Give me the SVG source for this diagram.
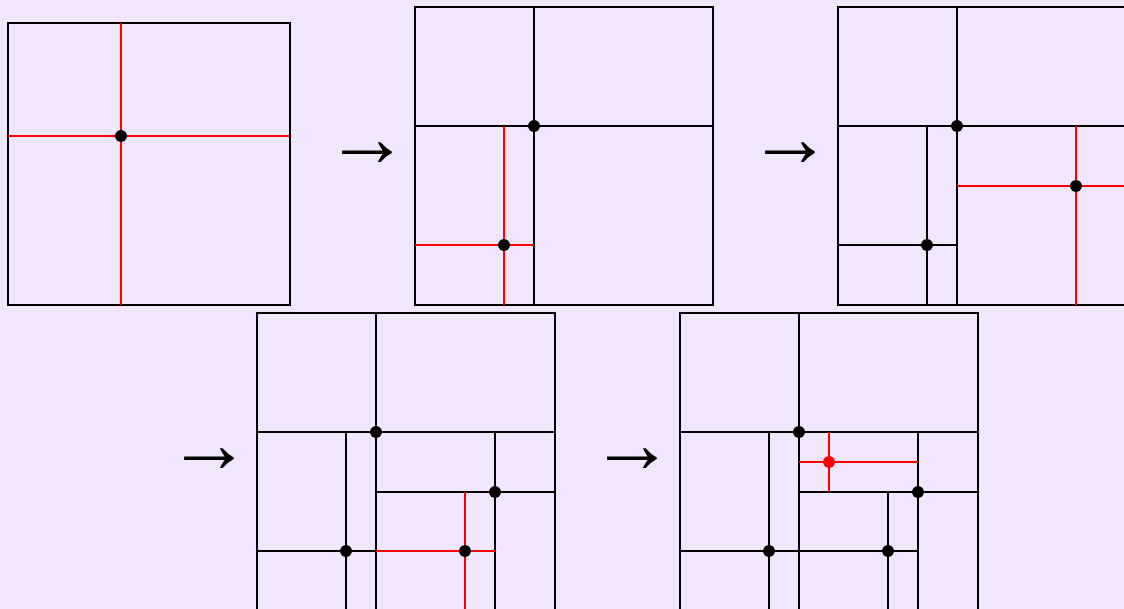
<svg xmlns="http://www.w3.org/2000/svg" width="1124" height="609" viewBox="0 0 1124 609">
<style>
.k{stroke:#000;stroke-width:2;fill:none}
.r{stroke:#ff0000;stroke-width:2;fill:none}
.d{fill:#000}
.rd{fill:#ff0000}
.ar{font-family:"Liberation Serif",serif;font-size:84px;fill:#000}
</style>
<rect width="1124" height="609" fill="#f2e6ff"/>
<g id="panel1">
<rect class="k" x="8" y="23" width="282" height="282"/>
<line class="r" x1="121" y1="23" x2="121" y2="305"/>
<line class="r" x1="8" y1="136" x2="290" y2="136"/>
<circle class="d" cx="121" cy="136" r="6"/>
</g>
<g id="panel2">
<rect class="k" x="415" y="7" width="298" height="298"/>
<line class="k" x1="534" y1="7" x2="534" y2="305"/>
<line class="k" x1="415" y1="126" x2="713" y2="126"/>
<line class="r" x1="504" y1="126" x2="504" y2="305"/>
<line class="r" x1="415" y1="245" x2="534" y2="245"/>
<circle class="d" cx="534" cy="126" r="6"/>
<circle class="d" cx="504" cy="245" r="6"/>
</g>
<g id="panel3">
<rect class="k" x="838" y="7" width="298" height="298"/>
<line class="k" x1="957" y1="7" x2="957" y2="305"/>
<line class="k" x1="838" y1="126" x2="1136" y2="126"/>
<line class="k" x1="927" y1="126" x2="927" y2="305"/>
<line class="k" x1="838" y1="245" x2="957" y2="245"/>
<line class="r" x1="1076" y1="126" x2="1076" y2="305"/>
<line class="r" x1="957" y1="186" x2="1136" y2="186"/>
<circle class="d" cx="957" cy="126" r="6"/>
<circle class="d" cx="927" cy="245" r="6"/>
<circle class="d" cx="1076" cy="186" r="6"/>
</g>
<g id="panel4">
<rect class="k" x="257" y="313" width="298" height="298"/>
<line class="k" x1="376" y1="313" x2="376" y2="611"/>
<line class="k" x1="257" y1="432" x2="555" y2="432"/>
<line class="k" x1="346" y1="432" x2="346" y2="611"/>
<line class="k" x1="257" y1="551" x2="376" y2="551"/>
<line class="k" x1="495" y1="432" x2="495" y2="611"/>
<line class="k" x1="376" y1="492" x2="555" y2="492"/>
<line class="r" x1="465" y1="492" x2="465" y2="611"/>
<line class="r" x1="376" y1="551" x2="495" y2="551"/>
<circle class="d" cx="376" cy="432" r="6"/>
<circle class="d" cx="346" cy="551" r="6"/>
<circle class="d" cx="495" cy="492" r="6"/>
<circle class="d" cx="465" cy="551" r="6"/>
</g>
<g id="panel5">
<rect class="k" x="680" y="313" width="298" height="298"/>
<line class="k" x1="799" y1="313" x2="799" y2="611"/>
<line class="k" x1="680" y1="432" x2="978" y2="432"/>
<line class="k" x1="769" y1="432" x2="769" y2="611"/>
<line class="k" x1="680" y1="551" x2="799" y2="551"/>
<line class="k" x1="918" y1="432" x2="918" y2="611"/>
<line class="k" x1="799" y1="492" x2="978" y2="492"/>
<line class="k" x1="888" y1="492" x2="888" y2="611"/>
<line class="k" x1="799" y1="551" x2="918" y2="551"/>
<line class="r" x1="829" y1="432" x2="829" y2="492"/>
<line class="r" x1="799" y1="462" x2="918" y2="462"/>
<circle class="d" cx="799" cy="432" r="6"/>
<circle class="d" cx="769" cy="551" r="6"/>
<circle class="d" cx="918" cy="492" r="6"/>
<circle class="d" cx="888" cy="551" r="6"/>
<circle class="rd" cx="829" cy="462" r="6"/>
</g>
<g id="arrows">
<text class="ar" x="325" y="166">→</text>
<text class="ar" x="748" y="166">→</text>
<text class="ar" x="167" y="472">→</text>
<text class="ar" x="590" y="472">→</text>
</g>
</svg>
